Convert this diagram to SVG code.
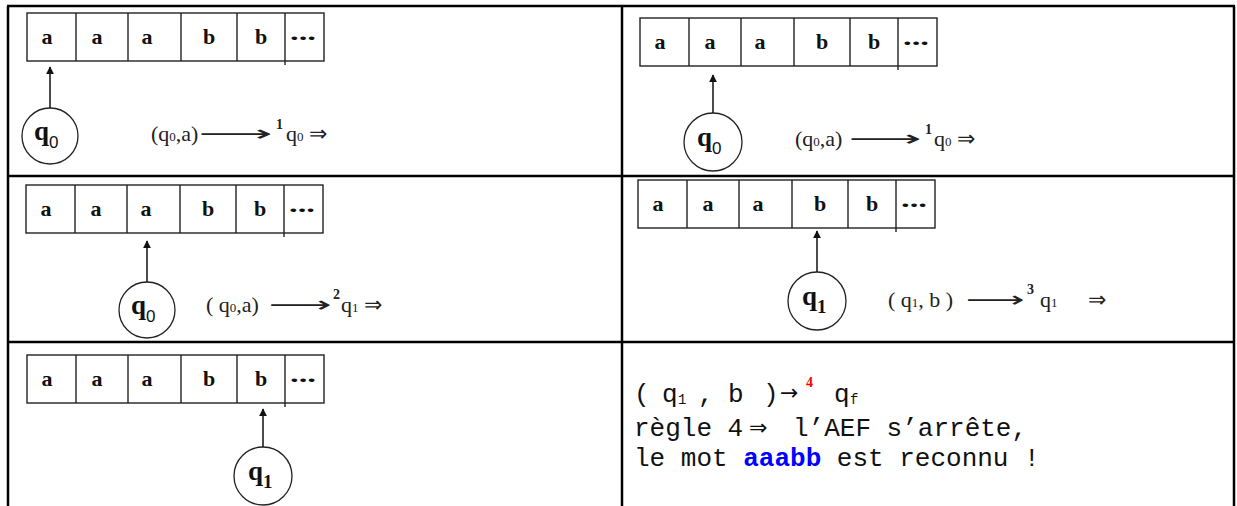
<svg xmlns="http://www.w3.org/2000/svg" xmlns:xlink="http://www.w3.org/1999/xlink" width="1237" height="506" viewBox="0 0 1237 506">
<style>
.bd{stroke:#000;stroke-width:2.5;fill:none}
.tp{stroke:#222;stroke-width:1.4;fill:#fff}
.tpl{stroke:#222;stroke-width:1.4;fill:none}
.tl{font-family:"Liberation Serif",serif;font-weight:bold;font-size:22px;text-anchor:middle;fill:#111}
.st{stroke:#222;stroke-width:1.3;fill:#fff}
.ql{font-family:"Liberation Serif",serif;font-weight:bold;font-size:27px;fill:#111}
.qs{font-family:"Liberation Sans",sans-serif;font-weight:normal;font-size:17px}
.qb{font-family:"Liberation Serif",serif;font-weight:bold;font-size:19px}
.f{font-family:"Liberation Serif",serif;font-size:22px;fill:#222}
.fs{font-size:13px}
.ar{font-family:"DejaVu Sans",sans-serif;font-size:22px;fill:#222}
.sup{font-family:"Liberation Serif",serif;font-size:14px;font-weight:bold;fill:#222}
.cn{stroke:#111;stroke-width:1.5;fill:none}
.m{font-family:"Liberation Mono","Courier New",monospace;font-size:26px;fill:#111}
.ms{font-size:14px}
.sy{font-family:"DejaVu Sans",sans-serif;font-size:22px;fill:#111}
</style>
<defs>
<marker id="ah" viewBox="0 0 10 10" refX="9" refY="5" markerWidth="8" markerHeight="8" markerUnits="userSpaceOnUse" orient="auto"><path d="M0,0 L10,5 L0,10 z" fill="#111"/></marker>
<g id="tape">
<rect class="tp" x="0" y="0" width="297" height="48"/>
<path class="tpl" d="M49 0V48M101 0V48M154 0V48M210 0V48M258 0V52"/>
<text class="tl" x="20" y="31">a</text>
<text class="tl" x="70" y="31">a</text>
<text class="tl" x="120" y="31">a</text>
<text class="tl" x="182" y="31">b</text>
<text class="tl" x="234" y="31">b</text>
<text class="tl" x="276" y="27" textLength="26" lengthAdjust="spacingAndGlyphs">...</text>
</g>
</defs>
<rect width="1237" height="506" fill="#fff"/>
<g id="table">
<path class="bd" d="M7 6H1235M8 6V506M622 6V506M1234 6V506M8 176H1234M8 342H1234"/>
</g>
<g id="step1">
<use xlink:href="#tape" x="27" y="13"/>
<circle class="st" cx="50" cy="136" r="28"/>
<text class="ql" x="34" y="140">q<tspan class="qs" dy="8">0</tspan></text>
<text class="f" x="151" y="141">(q<tspan class="fs">0</tspan>,a)</text>
<text class="ar" x="199" y="141" textLength="74" lengthAdjust="spacingAndGlyphs">⟶</text>
<text class="sup" x="276" y="129">1</text>
<text class="f" x="286" y="141">q<tspan class="fs">0</tspan> ⇒</text>
</g>
<g id="step2">
<use xlink:href="#tape" x="640" y="18"/>
<circle class="st" cx="713" cy="142" r="29"/>
<text class="ql" x="697" y="146">q<tspan class="qs" dy="8">0</tspan></text>
<text class="f" x="795" y="146">(q<tspan class="fs">0</tspan>,a)</text>
<text class="ar" x="849" y="146" textLength="73" lengthAdjust="spacingAndGlyphs">⟶</text>
<text class="sup" x="925" y="134">1</text>
<text class="f" x="934" y="146">q<tspan class="fs">0</tspan> ⇒</text>
</g>
<g id="step3">
<use xlink:href="#tape" x="26" y="185"/>
<circle class="st" cx="147" cy="310" r="28"/>
<text class="ql" x="131" y="314">q<tspan class="qs" dy="8">0</tspan></text>
<text class="f" x="206" y="312">( q<tspan class="fs">0</tspan>,a)</text>
<text class="ar" x="269" y="312" textLength="63" lengthAdjust="spacingAndGlyphs">⟶</text>
<text class="sup" x="333" y="299">2</text>
<text class="f" x="341" y="312">q<tspan class="fs">1</tspan> ⇒</text>
</g>
<g id="step4">
<use xlink:href="#tape" x="638" y="180"/>
<circle class="st" cx="817" cy="301" r="29"/>
<text class="ql" x="802" y="305">q<tspan class="qb" dy="8">1</tspan></text>
<text class="f" x="888" y="307">( q<tspan class="fs">1</tspan>, b )</text>
<text class="ar" x="966" y="307" textLength="59" lengthAdjust="spacingAndGlyphs">⟶</text>
<text class="sup" x="1027" y="294">3</text>
<text class="f" x="1040" y="307">q<tspan class="fs">1</tspan></text>
<text class="f" x="1088" y="307">⇒</text>
</g>
<g id="step5">
<use xlink:href="#tape" x="27" y="355"/>
<circle class="st" cx="263" cy="476" r="29"/>
<text class="ql" x="248" y="480">q<tspan class="qb" dy="8">1</tspan></text>
</g>
<g id="result">
<text class="m" x="634" y="402">(</text>
<text class="m" x="662" y="402">q</text>
<text class="m ms" x="678" y="404">1</text>
<text class="m" x="698" y="402">,</text>
<text class="m" x="728" y="402">b</text>
<text class="m" x="763" y="402">)</text>
<text class="sy" x="780" y="400">→</text>
<text class="sup" x="806" y="387" style="fill:#f00;font-size:14px">4</text>
<text class="m" x="834" y="402">q</text>
<text class="m ms" x="850" y="404">f</text>
<text class="m" x="634" y="436">règle 4</text>
<text class="sy" x="749" y="435">⇒</text>
<text class="m" x="793" y="436">l’AEF s’arrête,</text>
<text class="m" x="634" y="466">le mot <tspan style="fill:#00f;font-weight:bold">aaabb</tspan> est reconnu !</text>
</g>
<g id="connectors">
<line class="cn" x1="50" y1="108" x2="50" y2="67" marker-end="url(#ah)"/>
<line class="cn" x1="713" y1="113" x2="713" y2="75" marker-end="url(#ah)"/>
<line class="cn" x1="147" y1="282" x2="147" y2="241" marker-end="url(#ah)"/>
<line class="cn" x1="817" y1="272" x2="817" y2="231" marker-end="url(#ah)"/>
<line class="cn" x1="263" y1="447" x2="263" y2="409" marker-end="url(#ah)"/>
</g>
</svg>
